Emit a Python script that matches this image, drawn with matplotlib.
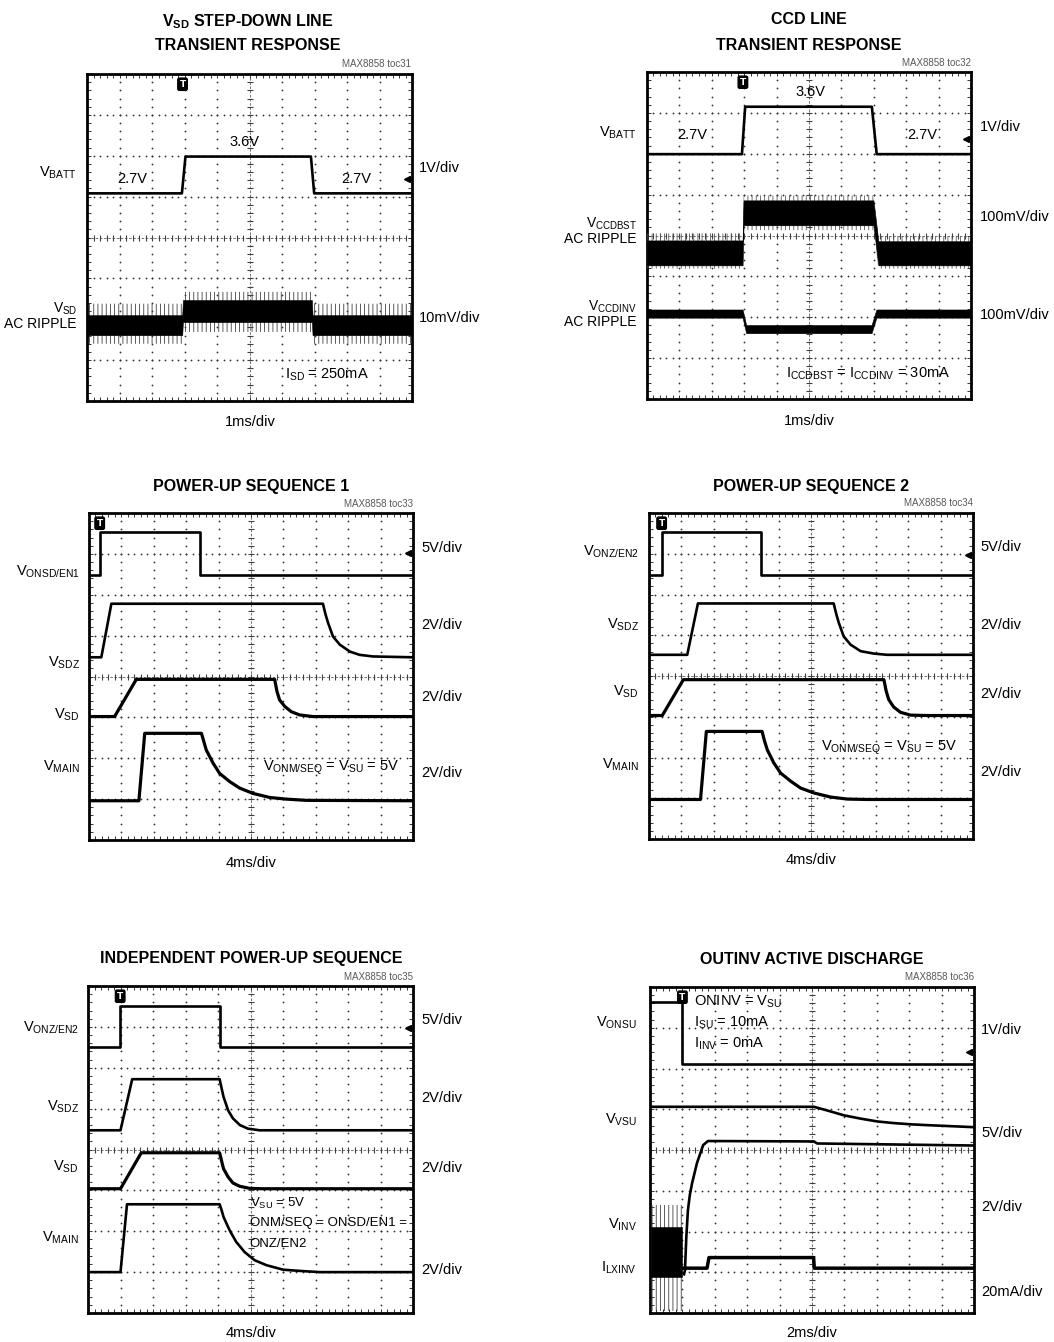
import numpy as np
import matplotlib
matplotlib.use("Agg")
import matplotlib.pyplot as plt

plt.rcParams['font.family'] = ['Liberation Sans', 'DejaVu Sans']
plt.rcParams['mathtext.fontset'] = 'custom'
plt.rcParams['mathtext.rm'] = 'Liberation Sans'
plt.rcParams['mathtext.it'] = 'Liberation Sans:italic'
plt.rcParams['mathtext.bf'] = 'Liberation Sans:bold'
plt.rcParams['hatch.linewidth'] = 0.6

W, H = 1054, 1342
FS = 10.5      # label size
TS = 11.5      # title size

# ---- data, in scope divisions (x: 0..10, y: 0..8 from bottom) ----

# toc31: VSD step-down line transient
p1_vbatt_t = [0, 2.92, 3.03, 6.89, 6.99, 10]
p1_vbatt_v = [5.08, 5.08, 5.98, 5.98, 5.08, 5.08]
p1_rip_t = [0, 2.93, 2.95, 6.92, 6.94, 10]
p1_rip_hi = [2.10, 2.10, 2.47, 2.47, 2.10, 2.10]
p1_rip_lo = [1.61, 1.61, 1.93, 1.93, 1.61, 1.61]
p1_rip_top = [2.38, 2.38, 2.67, 2.67, 2.38, 2.38]
p1_rip_bot = [1.40, 1.40, 1.69, 1.69, 1.40, 1.40]

# toc32: CCD line transient
p2_vbatt_t = [0, 2.93, 3.03, 6.94, 7.09, 10]
p2_vbatt_v = [5.99, 5.99, 7.15, 7.15, 5.99, 5.99]
p2_bst_t = [0, 2.95, 2.98, 6.99, 7.14, 10]
p2_bst_hi = [3.88, 3.88, 4.86, 4.86, 3.86, 3.86]
p2_bst_lo = [3.27, 3.27, 4.25, 4.25, 3.27, 3.27]
p2_bst_top = [4.05, 4.05, 4.98, 4.98, 3.98, 3.98]
p2_bst_bot = [3.19, 3.19, 4.13, 4.13, 3.19, 3.19]
p2_inv_t = [0, 2.95, 3.06, 6.93, 7.08, 10]
p2_inv_hi = [2.19, 2.19, 1.81, 1.81, 2.19, 2.19]
p2_inv_lo = [1.99, 1.99, 1.61, 1.61, 1.99, 1.99]

# toc33: power-up sequence 1
p3_on_t = [0, 0.33, 0.33, 3.42, 3.42, 10]
p3_on_v = [6.49, 6.49, 7.53, 7.53, 6.49, 6.49]
p3_sdz_t = [0, 0.38, 0.69, 7.22, 7.30, 7.38, 7.53, 7.74, 8.05, 8.35, 8.77, 10]
p3_sdz_v = [4.47, 4.47, 5.78, 5.78, 5.52, 5.31, 4.98, 4.78, 4.61, 4.53, 4.49, 4.47]
p3_sd_t = [0, 0.79, 1.46, 5.73, 5.80, 5.88, 6.04, 6.24, 6.50, 6.91, 10]
p3_sd_v = [3.02, 3.02, 3.93, 3.93, 3.64, 3.43, 3.27, 3.14, 3.06, 3.02, 3.02]
p3_main_t = [0, 1.54, 1.72, 3.47, 3.54, 3.62, 3.83, 4.03, 4.34, 4.65, 5.06, 5.58, 6.09, 6.71, 10]
p3_main_v = [0.96, 0.96, 2.61, 2.61, 2.42, 2.20, 1.88, 1.63, 1.43, 1.27, 1.14, 1.04, 1.00, 0.97, 0.96]

# toc34: power-up sequence 2
p4_on_t = [0, 0.39, 0.39, 3.47, 3.47, 10]
p4_on_v = [6.49, 6.49, 7.53, 7.53, 6.49, 6.49]
p4_sdz_t = [0, 1.18, 1.51, 5.70, 5.78, 5.86, 6.01, 6.22, 6.53, 6.94, 7.35, 10]
p4_sdz_v = [4.52, 4.52, 5.78, 5.78, 5.52, 5.30, 4.97, 4.77, 4.61, 4.55, 4.52, 4.52]
p4_sd_t = [0, 0.41, 1.06, 7.25, 7.32, 7.40, 7.55, 7.76, 8.07, 8.58, 10]
p4_sd_v = [3.03, 3.03, 3.91, 3.91, 3.63, 3.42, 3.24, 3.11, 3.04, 3.03, 3.03]
p4_main_t = [0, 1.59, 1.77, 3.49, 3.56, 3.65, 3.85, 4.06, 4.37, 4.68, 5.09, 5.60, 6.12, 6.73, 10]
p4_main_v = [0.97, 0.97, 2.64, 2.64, 2.42, 2.19, 1.87, 1.62, 1.42, 1.25, 1.13, 1.03, 0.98, 0.97, 0.97]

# toc35: independent power-up sequence
p5_on_t = [0, 0.99, 0.99, 4.05, 4.05, 10]
p5_on_v = [6.50, 6.50, 7.51, 7.51, 6.50, 6.50]
p5_sdz_t = [0, 1.00, 1.36, 4.05, 4.11, 4.17, 4.31, 4.46, 4.67, 4.92, 5.28, 10]
p5_sdz_v = [4.47, 4.47, 5.72, 5.72, 5.50, 5.29, 4.96, 4.76, 4.60, 4.51, 4.47, 4.47]
p5_sd_t = [0, 1.00, 1.64, 4.05, 4.11, 4.17, 4.31, 4.46, 4.67, 4.97, 5.38, 10]
p5_sd_v = [3.04, 3.04, 3.92, 3.92, 3.72, 3.53, 3.33, 3.18, 3.10, 3.05, 3.04, 3.04]
p5_main_t = [0, 1.00, 1.20, 4.05, 4.11, 4.17, 4.36, 4.56, 4.82, 5.13, 5.49, 6.00, 6.51, 7.13, 10]
p5_main_v = [1.00, 1.00, 2.66, 2.66, 2.52, 2.35, 2.02, 1.74, 1.49, 1.29, 1.17, 1.06, 1.03, 1.00, 1.00]

# toc36: OUTINV active discharge
p6_onsu_t = [0, 1.0, 1.0, 10]
p6_onsu_v = [7.63, 7.63, 6.12, 6.12]
p6_vsu_t = [0, 5.06, 5.47, 5.99, 6.50, 7.02, 7.53, 8.05, 8.56, 10]
p6_vsu_v = [5.06, 5.06, 4.97, 4.85, 4.77, 4.70, 4.66, 4.63, 4.61, 4.56]
p6_inv_t = [1.05, 1.08, 1.12, 1.17, 1.23, 1.30, 1.45, 1.64, 1.79, 5.06, 5.16, 10]
p6_inv_v = [0.95, 1.05, 1.85, 2.52, 2.90, 3.19, 3.68, 4.12, 4.22, 4.21, 4.16, 4.11]
p6_ilx_t = [1.03, 1.76, 1.82, 5.05, 5.07, 10]
p6_ilx_v = [1.10, 1.10, 1.36, 1.36, 1.10, 1.10]
p6_burst_t = [0.03, 1.00]
p6_burst_hi = [2.11, 2.11]
p6_burst_lo = [0.88, 0.88]
p6_burst_top = [2.65, 2.65]
p6_burst_bot = [0.05, 0.05]

fig = plt.figure(figsize=(W / 100, H / 100), dpi=100)


def ftext(x, y, s, **kw):
    kw.setdefault('fontsize', FS)
    kw.setdefault('va', 'center')
    fig.text(x / W, 1 - y / H, s, **kw)


def scope_axes(left, top, right, bottom):
    ax = fig.add_axes([left / W, 1 - bottom / H, (right - left) / W, (bottom - top) / H])
    ax.set_xlim(0, 10)
    ax.set_ylim(0, 8)
    fx = np.arange(0, 10.001, 0.2)
    fy = np.arange(0, 8.001, 0.2)
    for gx in [1, 2, 3, 4, 6, 7, 8, 9]:
        ax.plot(np.full(fy.size, gx), fy, ls='none', marker='o', ms=1.3, mew=0, color='0.2', zorder=1)
    for gy in [1, 2, 3, 5, 6, 7]:
        ax.plot(fx, np.full(fx.size, gy), ls='none', marker='o', ms=1.3, mew=0, color='0.2', zorder=1)
    ax.axvline(5, lw=0.6, color='0.35', ls=(0, (3, 2)), zorder=1)
    ax.axhline(4, lw=0.6, color='0.35', ls=(0, (3, 2)), zorder=1)
    ax.plot(np.full(fy.size, 5), fy, ls='none', marker='_', ms=5, mew=0.8, color='0.25', zorder=1)
    ax.plot(fx, np.full(fx.size, 4), ls='none', marker='|', ms=5, mew=0.8, color='0.25', zorder=1)
    ax.set_xticks(fx)
    ax.set_yticks(fy)
    ax.tick_params(direction='in', length=3, width=0.7, top=True, right=True,
                   labelbottom=False, labelleft=False, color='0.2')
    for s in ax.spines.values():
        s.set_linewidth(2)
    return ax


def trig(ax, x):
    ax.text(x, 7.75, 'T', color='white', fontsize=6.5, fontweight='bold', ha='center', va='center',
            family='DejaVu Sans',
            bbox=dict(boxstyle='round,pad=0.18', fc='black', ec='black'), zorder=6)


def gnd(ax, y):
    ax.plot([9.86], [y], marker='<', ms=4.5, color='black', zorder=6)
    ax.plot([9.86, 9.97], [y, y], lw=0.8, color='black', zorder=6)


def trace(ax, t, v, lw=1.9):
    ax.plot(t, v, color='black', lw=lw, solid_joinstyle='round', zorder=4)


def band(ax, t, lo, hi):
    ax.fill_between(t, lo, hi, color='black', lw=0.4, zorder=4)


def fuzz(ax, t, lo, hi, col='0.25'):
    ax.fill_between(t, lo, hi, facecolor='none', edgecolor=col, hatch='||||', lw=0, zorder=3)


def note(ax, x, y, s, ha='center', size=FS):
    ax.text(x, y, s, fontsize=size, ha=ha, va='center', zorder=7)


def header(cx, lines, toc, toc_x, toc_y):
    for y, s in lines:
        ftext(cx, y, s, fontsize=TS, fontweight='bold', ha='center')
    ftext(toc_x, toc_y, toc, fontsize=7, color='0.35', ha='right')


def left_labels(x, items):
    for y, s in items:
        size = 10 if '\n' in s else FS
        ftext(x, y, s, ha='right', multialignment='right', linespacing=1.05, fontsize=size)


def right_labels(x, items):
    for y, s in items:
        ftext(x, y, s, ha='left')


# ---------- toc31 ----------
ax = scope_axes(87, 74, 412, 401)
fuzz(ax, p1_rip_t, p1_rip_bot, p1_rip_top)
band(ax, p1_rip_t, p1_rip_lo, p1_rip_hi)
trace(ax, p1_vbatt_t, p1_vbatt_v)
trig(ax, 2.94)
gnd(ax, 5.44)
note(ax, 1.39, 5.44, '2.7V')
note(ax, 4.84, 6.34, '3.6V')
note(ax, 8.28, 5.44, '2.7V')
note(ax, 7.37, 0.63, r'I$_{\mathrm{SD}}$ = 250mA')
header(248, [(22, r'V$_{\mathbf{SD}}$ STEP-DOWN LINE'), (46, 'TRANSIENT RESPONSE')],
       'MAX8858 toc31', 411, 64)
left_labels(77, [(173, r'V$_{\mathrm{BATT}}$'), (316, 'V$_{\\mathrm{SD}}$\nAC RIPPLE')])
right_labels(419, [(168, '1V/div'), (318, '10mV/div')])
ftext(250, 422, '1ms/div', ha='center')

# ---------- toc32 ----------
ax = scope_axes(647, 72, 971, 399)
fuzz(ax, p2_bst_t, p2_bst_bot, p2_bst_top, col='0.35')
band(ax, p2_bst_t, p2_bst_lo, p2_bst_hi)
band(ax, p2_inv_t, p2_inv_lo, p2_inv_hi)
trace(ax, p2_vbatt_t, p2_vbatt_v)
trig(ax, 2.96)
gnd(ax, 6.37)
note(ax, 1.39, 6.45, '2.7V')
note(ax, 5.04, 7.51, '3.6V')
note(ax, 8.50, 6.45, '2.7V')
note(ax, 6.83, 0.62, r'I$_{\mathrm{CCDBST}}$ = I$_{\mathrm{CCDINV}}$ = 30mA')
header(809, [(20, 'CCD LINE'), (45, 'TRANSIENT RESPONSE')], 'MAX8858 toc32', 971, 63)
left_labels(637, [(133, r'V$_{\mathrm{BATT}}$'),
                  (231, 'V$_{\\mathrm{CCDBST}}$\nAC RIPPLE'),
                  (314, 'V$_{\\mathrm{CCDINV}}$\nAC RIPPLE')])
right_labels(980, [(127, '1V/div'), (217, '100mV/div'), (315, '100mV/div')])
ftext(809, 421, '1ms/div', ha='center')

# ---------- toc33 ----------
ax = scope_axes(89, 513, 413, 840)
trace(ax, p3_on_t, p3_on_v)
trace(ax, p3_sdz_t, p3_sdz_v)
trace(ax, p3_sd_t, p3_sd_v, lw=2.3)
trace(ax, p3_main_t, p3_main_v, lw=2.3)
trig(ax, 0.33)
gnd(ax, 7.02)
note(ax, 7.48, 1.76, r'V$_{\mathrm{ONM/SEQ}}$ = V$_{\mathrm{SU}}$ = 5V')
header(251, [(487, 'POWER-UP SEQUENCE 1')], 'MAX8858 toc33', 413, 504)
left_labels(80, [(572, r'V$_{\mathrm{ONSD/EN1}}$'), (663, r'V$_{\mathrm{SDZ}}$'),
                 (715, r'V$_{\mathrm{SD}}$'), (767, r'V$_{\mathrm{MAIN}}$')])
right_labels(421, [(548, '5V/div'), (625, '2V/div'), (697, '2V/div'), (773, '2V/div')])
ftext(251, 863, '4ms/div', ha='center')

# ---------- toc34 ----------
ax = scope_axes(649, 513, 973, 839)
trace(ax, p4_on_t, p4_on_v)
trace(ax, p4_sdz_t, p4_sdz_v)
trace(ax, p4_sd_t, p4_sd_v, lw=2.3)
trace(ax, p4_main_t, p4_main_v, lw=2.3)
trig(ax, 0.39)
gnd(ax, 6.98)
note(ax, 7.40, 2.23, r'V$_{\mathrm{ONM/SEQ}}$ = V$_{\mathrm{SU}}$ = 5V')
header(811, [(486, 'POWER-UP SEQUENCE 2')], 'MAX8858 toc34', 973, 503)
left_labels(639, [(552, r'V$_{\mathrm{ONZ/EN2}}$'), (625, r'V$_{\mathrm{SDZ}}$'),
                  (692, r'V$_{\mathrm{SD}}$'), (765, r'V$_{\mathrm{MAIN}}$')])
right_labels(980, [(547, '5V/div'), (625, '2V/div'), (694, '2V/div'), (772, '2V/div')])
ftext(811, 860, '4ms/div', ha='center')

# ---------- toc35 ----------
ax = scope_axes(88, 986, 413, 1313)
trace(ax, p5_on_t, p5_on_v)
trace(ax, p5_sdz_t, p5_sdz_v)
trace(ax, p5_sd_t, p5_sd_v, lw=2.3)
trace(ax, p5_main_t, p5_main_v)
trig(ax, 0.99)
gnd(ax, 6.98)
note(ax, 4.97, 2.68, r'V$_{\mathrm{SU}}$ = 5V', ha='left', size=9.5)
note(ax, 4.97, 2.19, 'ONM/SEQ = ONSD/EN1 =', ha='left', size=9.5)
note(ax, 4.97, 1.70, 'ONZ/EN2', ha='left', size=9.5)
header(251, [(959, 'INDEPENDENT POWER-UP SEQUENCE')], 'MAX8858 toc35', 413, 977)
left_labels(79, [(1028, r'V$_{\mathrm{ONZ/EN2}}$'), (1107, r'V$_{\mathrm{SDZ}}$'),
                 (1167, r'V$_{\mathrm{SD}}$'), (1238, r'V$_{\mathrm{MAIN}}$')])
right_labels(421, [(1020, '5V/div'), (1098, '2V/div'), (1168, '2V/div'), (1270, '2V/div')])
ftext(251, 1333, '4ms/div', ha='center')

# ---------- toc36 ----------
ax = scope_axes(650, 987, 974, 1313)
fuzz(ax, p6_burst_t, p6_burst_bot, p6_burst_top)
band(ax, p6_burst_t, p6_burst_lo, p6_burst_hi)
trace(ax, p6_onsu_t, p6_onsu_v)
trace(ax, p6_vsu_t, p6_vsu_v)
trace(ax, p6_inv_t, p6_inv_v)
trace(ax, p6_ilx_t, p6_ilx_v, lw=2.5)
trig(ax, 1.0)
gnd(ax, 6.40)
note(ax, 1.36, 7.63, r'ONINV = V$_{\mathrm{SU}}$', ha='left')
note(ax, 1.36, 7.12, r'I$_{\mathrm{SU}}$ = 10mA', ha='left')
note(ax, 1.36, 6.61, r'I$_{\mathrm{INV}}$ = 0mA', ha='left')
header(812, [(959, 'OUTINV ACTIVE DISCHARGE')], 'MAX8858 toc36', 974, 977)
left_labels(637, [(1023, r'V$_{\mathrm{ONSU}}$'), (1120, r'V$_{\mathrm{VSU}}$'),
                  (1225, r'V$_{\mathrm{INV}}$'), (1268, r'I$_{\mathrm{LXINV}}$')])
right_labels(981, [(1030, '1V/div'), (1133, '5V/div'), (1207, '2V/div'), (1292, '20mA/div')])
ftext(812, 1333, '2ms/div', ha='center')

fig.savefig('out.png', dpi=100, facecolor='white')
